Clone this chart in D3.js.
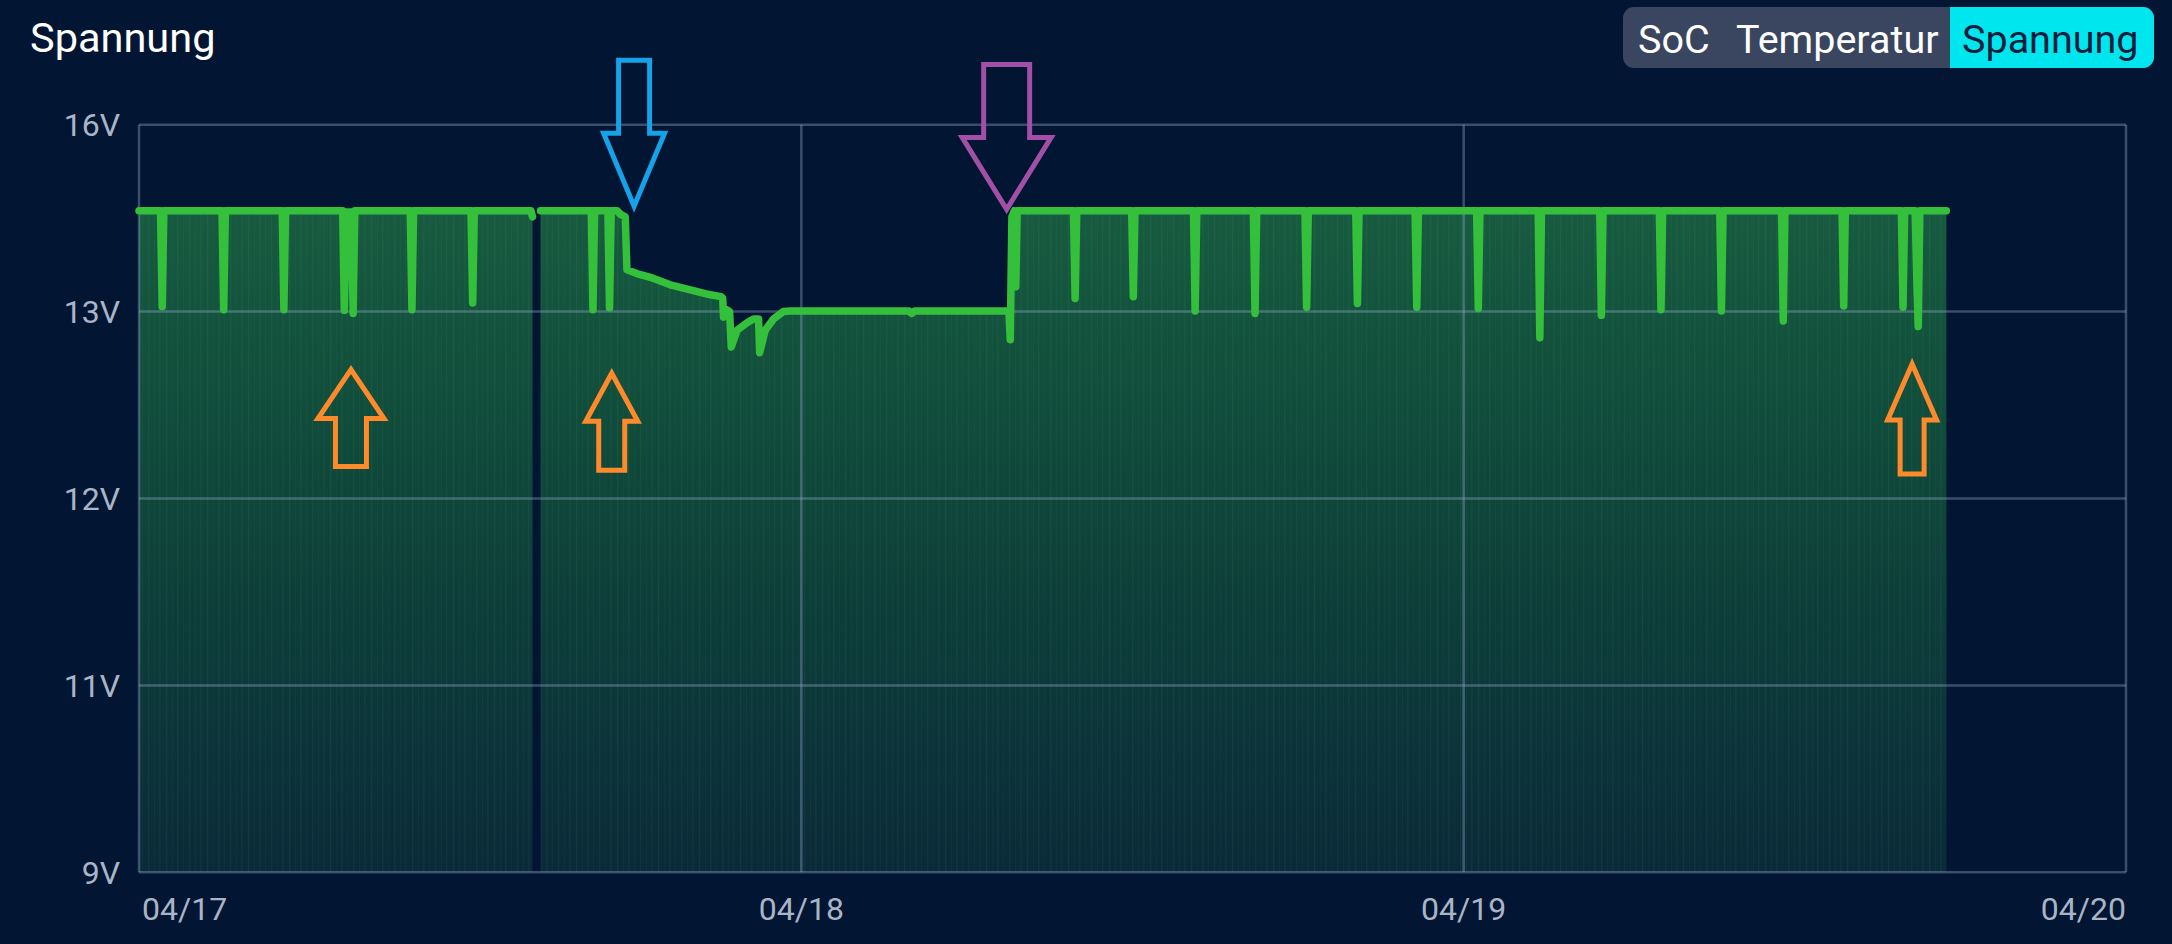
<!DOCTYPE html>
<html><head><meta charset="utf-8">
<script src="https://cdn.jsdelivr.net/npm/d3@7"></script>
<style>
html,body{margin:0;padding:0;background:#021532;}
svg{display:block;font-family:Roboto,"Noto Sans",sans-serif;}
</style></head>
<body>
<svg id="chart" width="2172" height="944"></svg>
<script>
// ---- data ----
const title = "Spannung";
const tabs = ["SoC", "Temperatur", "Spannung"];
const activeTab = "Spannung";
const yTicks = [16, 13, 12, 11, 9];
const yTickLabels = ["16V", "13V", "12V", "11V", "9V"];
const xTicks = [0, 24, 48, 72];            // hours since 04/17 00:00
const xTickLabels = ["04/17", "04/18", "04/19", "04/20"];

// hours since 04/17 00:00 and voltage (null = no data)
const hours = [
  0.00, 0.78, 0.84, 0.90, 3.01, 3.07, 3.13, 5.19, 5.25, 5.31,
  7.38, 7.44, 7.52, 7.70, 7.76, 7.82, 9.83, 9.89, 9.95,
  12.03, 12.09, 12.15, 14.20, 14.26, 14.40,
  14.55, 16.39, 16.45, 16.51, 16.99, 17.05, 17.11, 17.32, 17.45, 17.62,
  17.68, 18.04, 18.53, 19.25, 19.98, 20.70, 21.09, 21.15, 21.18, 21.30,
  21.40, 21.46, 21.67, 22.03, 22.27, 22.45, 22.49, 22.69, 22.99, 23.35,
  23.60, 27.90, 28.00, 28.10, 31.52, 31.57, 31.63, 31.72, 31.77, 31.82,
  33.86, 33.92, 33.98, 35.97, 36.03, 36.09, 38.21, 38.27, 38.33,
  40.38, 40.44, 40.50, 42.25, 42.31, 42.37, 44.09, 44.15, 44.21,
  46.24, 46.30, 46.36, 48.47, 48.53, 48.59, 50.70, 50.76, 50.82,
  52.93, 52.99, 53.05, 55.09, 55.15, 55.21, 57.28, 57.34, 57.40,
  59.52, 59.58, 59.64, 61.71, 61.77, 61.83, 63.86, 63.92, 63.98,
  64.36, 64.42, 64.47, 64.53, 65.49
];
const volts = [
  14.62, 14.62, 13.08, 14.62, 14.62, 13.03, 14.62, 14.62, 13.03, 14.62,
  14.62, 13.02, 14.60, 14.60, 12.99, 14.62, 14.62, 13.03, 14.62,
  14.62, 13.14, 14.62, 14.62, 14.52, null,
  14.62, 14.62, 13.03, 14.62, 14.62, 13.06, 14.62, 14.62, 14.56, 14.52,
  13.67, 13.61, 13.55, 13.43, 13.35, 13.27, 13.24, 13.22, 12.97, 13.03,
  13.00, 12.81, 12.90, 12.94, 12.96, 12.96, 12.78, 12.90, 12.96, 13.00,
  13.01, 13.01, 12.99, 13.01, 13.01, 12.85, 14.52, 14.62, 13.40, 14.62,
  14.62, 13.21, 14.62, 14.62, 13.24, 14.62, 14.62, 13.01, 14.62,
  14.62, 12.99, 14.62, 14.62, 13.07, 14.62, 14.62, 13.13, 14.62,
  14.62, 13.07, 14.62, 14.62, 13.05, 14.62, 14.62, 12.86, 14.62,
  14.62, 12.98, 14.62, 14.62, 13.03, 14.62, 14.62, 13.01, 14.62,
  14.62, 12.95, 14.62, 14.62, 13.09, 14.62, 14.62, 13.07, 14.62,
  14.62, 13.51, 12.92, 14.62, 14.62
];

// annotation arrows: tip position (hour, volt) and direction
const arrowHours = [7.68, 17.13, 64.25, 17.94, 31.44];
const arrowVolts = [12.69, 12.67, 12.72, 14.69, 14.64];
const arrowDirs  = ["up", "up", "up", "down", "down"];

// ---- styles ----
const arrowStyles = [
  {color:"#ff8a2b", len:97,  headLen:49,  headHalf:33,   shaftHalf:15.5},
  {color:"#ff8a2b", len:97,  headLen:48,  headHalf:26,   shaftHalf:13},
  {color:"#ff8a2b", len:110, headLen:56,  headHalf:24.5, shaftHalf:12},
  {color:"#16a2e8", len:146, headLen:73,  headHalf:30.5, shaftHalf:15.5},
  {color:"#a24fa6", len:145, headLen:72,  headHalf:44.5, shaftHalf:23}
];

const W = 2172, H = 944;
const plot = {left:139, right:2126, top:124.7, bottom:872.3};
const svg = d3.select("#chart");

svg.append("rect").attr("width", W).attr("height", H).attr("fill", "#021532");

const x = d3.scaleLinear().domain([xTicks[0], xTicks[xTicks.length-1]]).range([plot.left, plot.right]);
const band = (plot.bottom - plot.top) / (yTicks.length - 1);
const yDomain = yTicks.slice().sort((a,b) => a-b);   // 9,11,12,13,16 evenly spaced
const y = d3.scaleLinear().domain(yDomain).range(yDomain.map((d,i) => plot.bottom - i*band));

const data = hours.map((h,i) => ({h, v: volts[i]}));

const defs = svg.append("defs");
const grad = defs.append("linearGradient").attr("id","areaGrad")
  .attr("gradientUnits","userSpaceOnUse").attr("x1",0).attr("x2",0)
  .attr("y1", y(14.62)).attr("y2", plot.bottom);
grad.append("stop").attr("offset","0%").attr("stop-color","#175b40");
grad.append("stop").attr("offset","40%").attr("stop-color","#0f483a");
grad.append("stop").attr("offset","100%").attr("stop-color","#0a2a39");

// faint vertical streak texture
const pat = defs.append("pattern").attr("id","streaks").attr("patternUnits","userSpaceOnUse")
  .attr("width", 41).attr("height", 944);
[[2,1.2,0.07],[8,1,0.04],[13,1.5,0.055],[19,1,0.035],[25,1.2,0.06],[31,1,0.04],[36,1.4,0.05]]
  .forEach(([px,pw,po]) => pat.append("rect").attr("x",px).attr("y",0).attr("width",pw).attr("height",944)
    .attr("fill","#6fd08a").attr("opacity",po));

const area = d3.area().defined(d => d.v != null)
  .x(d => x(d.h)).y0(plot.bottom).y1(d => y(d.v));
svg.append("path").datum(data).attr("d", area).attr("fill","url(#areaGrad)");
svg.append("path").datum(data).attr("d", area).attr("fill","url(#streaks)");

// grid
const gridColor = "rgba(150,172,205,0.38)";
const grid = svg.append("g");
grid.selectAll("line.h").data(yTicks).join("line")
  .attr("x1", plot.left).attr("x2", plot.right)
  .attr("y1", d => y(d)).attr("y2", d => y(d))
  .attr("stroke", gridColor).attr("stroke-width", 2.5);
grid.selectAll("line.v").data(xTicks).join("line")
  .attr("x1", d => x(d)).attr("x2", d => x(d))
  .attr("y1", plot.top).attr("y2", plot.bottom)
  .attr("stroke", gridColor).attr("stroke-width", 2.5);

// y labels
svg.append("g").selectAll("text").data(yTicks).join("text")
  .attr("x", 120).attr("y", d => y(d)).attr("dy","0.36em")
  .attr("text-anchor","end").attr("fill","#a9b5c6").attr("font-size", 32)
  .text((d,i) => yTickLabels[i]);

// x labels
svg.append("g").selectAll("text").data(xTicks).join("text")
  .attr("x", d => x(d)).attr("y", 920)
  .attr("text-anchor", (d,i) => i===0 ? "start" : (i===xTicks.length-1 ? "end" : "middle"))
  .attr("dx", (d,i) => i===0 ? 3 : 0)
  .attr("fill","#a9b5c6").attr("font-size", 32)
  .text((d,i) => xTickLabels[i]);

// line
const line = d3.line().defined(d => d.v != null).x(d => x(d.h)).y(d => y(d.v));
svg.append("path").datum(data).attr("d", line)
  .attr("fill","none").attr("stroke","#35c03c").attr("stroke-width",7.5)
  .attr("stroke-linejoin","round").attr("stroke-linecap","round");

// arrows
arrowHours.forEach((h,i) => {
  const s = arrowStyles[i];
  const tx = x(h), ty = y(arrowVolts[i]);
  const k = arrowDirs[i] === "down" ? -1 : 1;
  const pts = [
    [tx, ty],
    [tx - s.headHalf, ty + k*s.headLen],
    [tx - s.shaftHalf, ty + k*s.headLen],
    [tx - s.shaftHalf, ty + k*s.len],
    [tx + s.shaftHalf, ty + k*s.len],
    [tx + s.shaftHalf, ty + k*s.headLen],
    [tx + s.headHalf, ty + k*s.headLen]
  ];
  svg.append("path").attr("d", "M" + pts.map(p => p.join(",")).join("L") + "Z")
    .attr("fill","none").attr("stroke", s.color).attr("stroke-width", 5)
    .attr("stroke-linejoin","miter");
});

// title
svg.append("text").attr("x", 30).attr("y", 52).attr("fill","#ffffff")
  .attr("font-size", 41.5).text(title);

// tabs
const tabBox = {x:1623, y:7, w:531, h:61, r:11};
const tabG = svg.append("g");
tabG.append("rect").attr("x",tabBox.x).attr("y",tabBox.y).attr("width",tabBox.w).attr("height",tabBox.h)
  .attr("rx",tabBox.r).attr("fill","#3a4560");
const tabX = [1638, 1736, 1962];
const activeX = 1950;
tabG.append("path")
  .attr("d", `M${activeX},${tabBox.y}H${tabBox.x+tabBox.w-tabBox.r}A${tabBox.r},${tabBox.r} 0 0 1 ${tabBox.x+tabBox.w},${tabBox.y+tabBox.r}V${tabBox.y+tabBox.h-tabBox.r}A${tabBox.r},${tabBox.r} 0 0 1 ${tabBox.x+tabBox.w-tabBox.r},${tabBox.y+tabBox.h}H${activeX}Z`)
  .attr("fill","#00e6ee");
tabG.selectAll("text").data(tabs).join("text")
  .attr("x",(d,i)=>tabX[i]).attr("y",53).attr("font-size",39.5)
  .attr("fill", d => d === activeTab ? "#0b1d3c" : "#ffffff")
  .text(d => d);
</script>
</body></html>
